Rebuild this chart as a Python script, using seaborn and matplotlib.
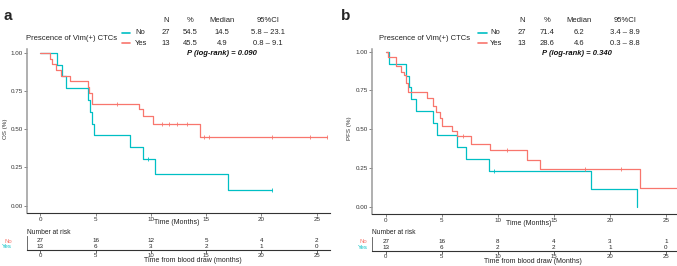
import numpy as np
import pandas as pd
import matplotlib
matplotlib.use("Agg")
import matplotlib.pyplot as plt
from matplotlib.lines import Line2D
import seaborn as sns

# ---- dados ----
os_no_t = [0, 1.5, 2.0, 2.35, 4.35, 4.5, 4.7, 4.85, 8.1, 9.3, 10.4, 16.95, 21.0]
os_no_s = [1.0, 0.923, 0.846, 0.769, 0.692, 0.615, 0.538, 0.462, 0.385, 0.308, 0.205, 0.103, 0.103]
os_no_cens = [9.7, 21.0]

os_yes_t = [0, 0.9, 1.05, 1.4, 1.9, 2.65, 4.3, 4.45, 4.65, 8.9, 9.3, 10.2, 14.45, 25.95]
os_yes_s = [1.0, 0.963, 0.926, 0.889, 0.852, 0.815, 0.778, 0.741, 0.667, 0.630, 0.586, 0.535, 0.447, 0.447]
os_yes_cens = [6.9, 11.0, 11.6, 12.4, 13.3, 14.8, 15.3, 21.0, 24.4, 25.95]

pfs_no_t = [0, 0.3, 1.85, 2.1, 2.3, 2.7, 4.2, 4.55, 6.35, 7.2, 9.25, 18.3, 22.4]
pfs_no_s = [1.0, 0.923, 0.846, 0.769, 0.692, 0.615, 0.538, 0.462, 0.385, 0.308, 0.231, 0.115, 0.0]
pfs_no_cens = [9.65]

pfs_yes_t = [0, 0.23, 0.9, 1.34, 1.63, 1.81, 2.02, 3.66, 4.25, 4.46, 4.85, 5.05, 5.95, 6.4,
             7.6, 9.3, 12.6, 13.8, 22.7, 26.0]
pfs_yes_s = [1.0, 0.963, 0.907, 0.87, 0.852, 0.796, 0.741, 0.704, 0.648, 0.611, 0.574, 0.519,
             0.487, 0.454, 0.405, 0.365, 0.304, 0.243, 0.122, 0.122]
pfs_yes_cens = [6.9, 10.8, 17.8, 21.0]

risk_times = [0, 5, 10, 15, 20, 25]
os_risk_no = [27, 16, 12, 5, 4, 2]
os_risk_yes = [13, 6, 3, 2, 1, 0]
pfs_risk_no = [27, 16, 8, 4, 3, 1]
pfs_risk_yes = [13, 6, 2, 2, 1, 0]

os_table = [["27", "54.5", "14.5", "5.8 – 23.1"], ["13", "45.5", "4.9", "0.8 – 9.1"]]
pfs_table = [["27", "71.4", "6.2", "3.4 – 8.9"], ["13", "28.6", "4.6", "0.3 – 8.8"]]
os_p = "P (log-rank) = 0.090"
pfs_p = "P (log-rank) = 0.340"

TEAL = "#00BFC4"
RED = "#F8766D"

sns.set_style("white")
plt.rcParams['font.family'] = ['Liberation Sans', 'DejaVu Sans']

W, H = 677, 266
fig = plt.figure(figsize=(W / 100, H / 100), dpi=100)


def px_axes(l, t, r, b):
    return fig.add_axes([l / W, 1 - b / H, (r - l) / W, (b - t) / H])


def ftext(x, y, s, **kw):
    kw.setdefault("va", "center")
    fig.text(x / W, 1 - y / H, s, **kw)


def step_y(t, s, c):
    idx = np.searchsorted(np.array(t), np.array(c), side="right") - 1
    return np.array(s)[idx]


def painel(ax, no_t, no_s, no_c, yes_t, yes_s, yes_c, xlim, ylim):
    df = pd.concat([
        pd.DataFrame({"t": no_t, "s": no_s, "grp": "No"}),
        pd.DataFrame({"t": yes_t, "s": yes_s, "grp": "Yes"}),
    ])
    sns.lineplot(data=df, x="t", y="s", hue="grp", palette={"No": TEAL, "Yes": RED},
                 estimator=None, sort=False, drawstyle="steps-post", lw=0.9,
                 legend=False, ax=ax)
    ax.plot(no_c, step_y(no_t, no_s, no_c), ls="none", marker="|", ms=3, mew=0.6, color=TEAL)
    ax.plot(yes_c, step_y(yes_t, yes_s, yes_c), ls="none", marker="|", ms=3, mew=0.6, color=RED)
    ax.set_xlim(*xlim)
    ax.set_ylim(*ylim)
    ax.set_xticks(risk_times)
    ax.set_yticks([0, 0.25, 0.5, 0.75, 1.0])
    ax.set_yticklabels(["0.00", "0.25", "0.50", "0.75", "1.00"])
    ax.set_xlabel("")
    ax.set_ylabel("")
    for side in ["top", "right"]:
        ax.spines[side].set_visible(False)
    ax.spines["left"].set_color("#9a9a9a")
    ax.spines["left"].set_linewidth(1.1)
    ax.spines["bottom"].set_color("#333333")
    ax.spines["bottom"].set_linewidth(0.8)
    ax.tick_params(axis="both", length=2, width=0.5, pad=1, labelsize=4.5, color="#555555",
                   labelcolor="#333333", left=True, bottom=True)


def tabela_risco(ax, xlim, rn, ry, ypad):
    ax.set_xlim(*xlim)
    ax.set_ylim(0, 1)
    for t, a, b in zip(risk_times, rn, ry):
        ax.text(t, 0.66, str(a), ha="center", va="center", fontsize=4.5, color="#222222")
        ax.text(t, 0.25, str(b), ha="center", va="center", fontsize=4.5, color="#222222")
    ax.set_xticks(risk_times)
    ax.set_yticks([0.66, 0.25])
    ax.set_yticklabels(["No", "Yes"])
    for lab, c in zip(ax.get_yticklabels(), [RED, TEAL]):
        lab.set_color(c)
    for side in ["top", "right"]:
        ax.spines[side].set_visible(False)
    ax.spines["left"].set_color("#555555")
    ax.spines["left"].set_linewidth(0.6)
    ax.spines["bottom"].set_color("#333333")
    ax.spines["bottom"].set_linewidth(0.8)
    ax.tick_params(axis="x", length=2, width=0.5, pad=0.5, labelsize=4.3, labelcolor="#333333",
                   bottom=True)
    ax.tick_params(axis="y", length=0, pad=ypad, labelsize=4.3, left=True)


# ---- painel a ----
ax_a = px_axes(27, 49, 330, 213)
painel(ax_a, os_no_t, os_no_s, os_no_cens, os_yes_t, os_yes_s, os_yes_cens,
       (-1.2, 26.2), (-0.048, 1.026))
rk_a = px_axes(27, 236, 330, 250)
tabela_risco(rk_a, (-1.2, 26.2), os_risk_no, os_risk_yes, 11)

# ---- painel b ----
ax_b = px_axes(371.7, 49, 677, 214.3)
painel(ax_b, pfs_no_t, pfs_no_s, pfs_no_cens, pfs_yes_t, pfs_yes_s, pfs_yes_cens,
       (-1.25, 26.0), (-0.049, 1.017))
rk_b = px_axes(371.7, 236.5, 677, 250.7)
tabela_risco(rk_b, (-1.25, 26.0), pfs_risk_no, pfs_risk_yes, 3)

# ---- textos ----
def cabecalho(title_r, line_l, line_r, lab_x, cols, tab, p, p_x):
    ftext(title_r, 39, "Prescence of Vim(+) CTCs", ha="right", fontsize=5.5, color="#222222")
    for y, c, lab in [(32.5, TEAL, "No"), (43.3, RED, "Yes")]:
        fig.add_artist(Line2D([line_l / W, line_r / W], [1 - y / H, 1 - y / H], color=c, lw=1.2))
        ftext(lab_x, y, lab, ha="left", fontsize=5.5, color="#222222")
    for cx, h in zip(cols, ["N", "%", "Median", "95%CI"]):
        ftext(cx, 21, h, ha="center", fontsize=5.5, color="#222222")
    for y, row in zip([32.5, 43.3], tab):
        for cx, v in zip(cols, row):
            ftext(cx, y, v, ha="center", fontsize=5.5, color="#222222")
    ftext(p_x, 54, p, ha="center", fontsize=5.5, fontweight="bold", fontstyle="italic",
          color="#111111")


cabecalho(117, 122, 130, 135, [166, 190, 222, 268], os_table, os_p, 222)
cabecalho(470, 477.7, 486.7, 490, [521.7, 546.7, 579.3, 625.3], pfs_table, pfs_p, 577.3)

ftext(4, 16, "a", ha="left", fontsize=11, fontweight="bold")
ftext(341, 15.5, "b", ha="left", fontsize=11, fontweight="bold")

ftext(5, 129, "OS (%)", ha="center", rotation=90, fontsize=4.5, color="#333333")
ftext(349.5, 128.5, "PFS (%)", ha="center", rotation=90, fontsize=4.5, color="#333333")

ftext(177, 223, "Time (Months)", ha="center", fontsize=5, color="#222222")
ftext(528.3, 223.5, "Time (Months)", ha="center", fontsize=5, color="#222222")

ftext(27, 232, "Number at risk", ha="left", fontsize=4.8, color="#222222")
ftext(372, 232.5, "Number at risk", ha="left", fontsize=4.8, color="#222222")

ftext(193, 260.5, "Time from blood draw (months)", ha="center", fontsize=5, color="#222222")
ftext(533, 261.5, "Time from blood draw (Months)", ha="center", fontsize=5, color="#222222")

fig.savefig("out.png", dpi=100)
